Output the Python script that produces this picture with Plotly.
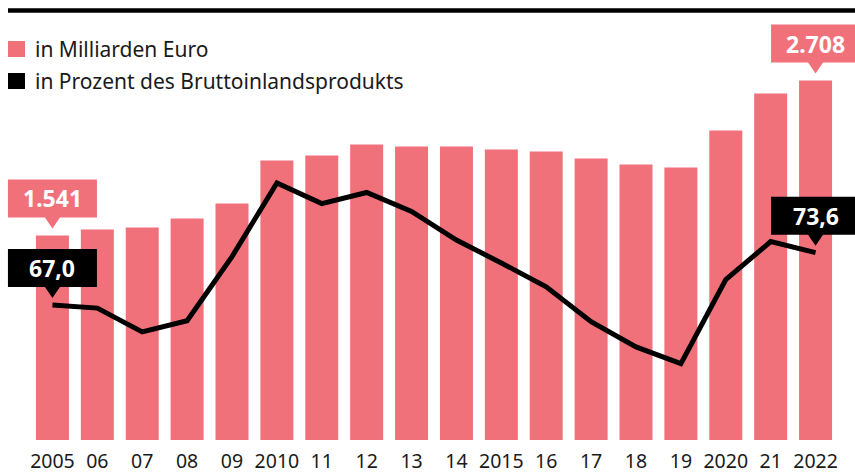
import plotly.graph_objects as go

years = ["2005", "06", "07", "08", "09", "2010", "11", "12", "13", "14",
         "2015", "16", "17", "18", "19", "2020", "21", "2022"]
debt_bn = [1541, 1586, 1601, 1669, 1782, 2105, 2143, 2226, 2211, 2211,
           2188, 2173, 2121, 2075, 2053, 2331, 2610, 2708]
debt_pct = [67.0, 66.6, 63.6, 65.0, 73.1, 82.4, 79.8, 81.2, 78.8, 75.2,
            72.3, 69.3, 64.9, 61.7, 59.6, 70.2, 75.0, 73.6]
legend_labels = ["in Milliarden Euro", "in Prozent des Bruttoinlandsprodukts"]

PINK = "#f1717b"
BLACK = "#000000"
TEXT = "#1a1a1a"
FONT = "Noto Sans"

xs = list(range(len(years)))
X_RANGE = [-0.5, len(years) - 0.5]
Y1_RANGE = [0, 3164]
Y2_RANGE = [49.95, 102.98]

fig = go.Figure()
fig.add_trace(go.Bar(x=xs, y=debt_bn, marker=dict(color=PINK, line=dict(width=0)),
                     yaxis="y", showlegend=False, hoverinfo="skip"))
fig.add_trace(go.Scatter(x=xs, y=debt_pct, mode="lines", line=dict(color=BLACK, width=5),
                         yaxis="y2", showlegend=False, hoverinfo="skip"))

L, R, T, B = 30, 17, 20, 33
W, H = 855, 473
pw, ph = W - L - R, H - T - B


def px_x(p):
    return (p - L) / pw


def px_y(p):
    return (H - B - p) / ph


def frac(v, rng):
    return (v - rng[0]) / (rng[1] - rng[0])


shapes = []
annotations = []

# top rule
shapes.append(dict(type="line", xref="paper", yref="paper", x0=px_x(8), x1=px_x(860),
                   y0=px_y(10.5), y1=px_y(10.5), line=dict(color=BLACK, width=4.5)))

# legend
for i, (lab, col) in enumerate(zip(legend_labels, [PINK, BLACK])):
    cy = 49 + 32 * i
    shapes.append(dict(type="rect", xref="paper", yref="paper", x0=px_x(8), x1=px_x(25),
                       y0=px_y(cy - 8), y1=px_y(cy + 8), fillcolor=col, line=dict(width=0)))
    annotations.append(dict(xref="paper", yref="paper", x=px_x(33), y=px_y(cy),
                            xanchor="left", yanchor="middle", showarrow=False, text=lab,
                            font=dict(family=FONT, size=21, color=TEXT)))


# value callouts
def callout(idx, val, rng, color, text):
    path = "M -44.5,18 L -7.5,18 L 0,7 L 7.5,18 L 44.5,18 L 44.5,56 L -44.5,56 Z"
    xa = frac(idx, X_RANGE)
    ya = frac(val, rng)
    shapes.append(dict(type="path", xref="paper", yref="paper", xsizemode="pixel",
                       ysizemode="pixel", xanchor=xa, yanchor=ya, path=path,
                       fillcolor=color, line=dict(width=0)))
    annotations.append(dict(xref="paper", yref="paper", x=xa, y=ya, yshift=37, showarrow=False,
                            xanchor="center", yanchor="middle", text=f"<b>{text}</b>",
                            font=dict(family=FONT, size=23, color="white")))


def fmt_de_int(v):
    return f"{v:,}".replace(",", ".")


def fmt_de_dec(v):
    return f"{v:.1f}".replace(".", ",")


first, last = 0, len(years) - 1
callout(first, debt_bn[first], Y1_RANGE, PINK, fmt_de_int(debt_bn[first]))
callout(last, debt_bn[last], Y1_RANGE, PINK, fmt_de_int(debt_bn[last]))
callout(first, debt_pct[first], Y2_RANGE, BLACK, fmt_de_dec(debt_pct[first]))
callout(last, debt_pct[last], Y2_RANGE, BLACK, fmt_de_dec(debt_pct[last]))

fig.update_layout(
    width=W, height=H,
    margin=dict(l=L, r=R, t=T, b=B, pad=0, autoexpand=False),
    paper_bgcolor="white", plot_bgcolor="white",
    bargap=0.265,
    xaxis=dict(range=X_RANGE, tickvals=xs, ticktext=years, automargin=False,
               showgrid=False, zeroline=False, showline=False, ticks="",
               ticklabelstandoff=7,
               tickfont=dict(family=FONT, size=19.5, color=TEXT)),
    yaxis=dict(range=Y1_RANGE, visible=False, showgrid=False, zeroline=False,
               automargin=False),
    yaxis2=dict(range=Y2_RANGE, overlaying="y", visible=False,
                showgrid=False, zeroline=False, automargin=False),
    shapes=shapes, annotations=annotations,
)

fig.write_html("out.html", config={"displayModeBar": False},
               post_script="document.body.style.margin='0';")
